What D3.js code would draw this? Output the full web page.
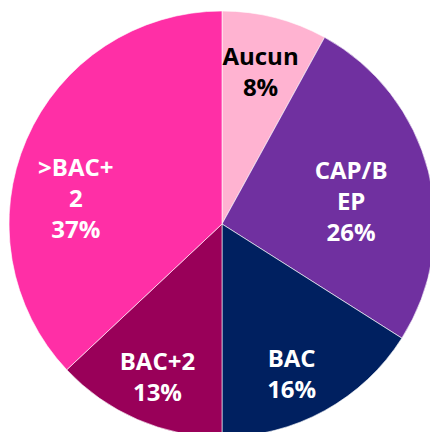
<!DOCTYPE html>
<html>
<head>
<meta charset="utf-8">
<script src="https://cdn.jsdelivr.net/npm/d3@7"></script>
<style>
  html, body { margin: 0; padding: 0; background: #fff; }
  svg { display: block; }
</style>
</head>
<body>
<svg id="chart"></svg>
<script>
// data
const categories = ["Aucun", "CAP/BEP", "BAC", "BAC+2", ">BAC+2"];
const values = [8, 26, 16, 13, 37];
// how the labels wrap in the original
const labelLines = [["Aucun"], ["CAP/B", "EP"], ["BAC"], ["BAC+2"], [">BAC+", "2"]];
const colors = ["#ffb3d1", "#7030a0", "#002060", "#990059", "#ff2fa6"];
const textColors = ["#000", "#fff", "#fff", "#fff", "#fff"];

// layout
const width = 430, height = 432;
const cx = 222, cy = 224, radius = 213;
const labelRadius = 155;
const lineHeight = 31;
// hand nudges so labels sit like the original text boxes
const nudge = [[0, -2], [-21, 16], [-5, 14], [-3, 11], [-4, 36]];

const svg = d3.select("#chart")
    .attr("width", width)
    .attr("height", height);

const g = svg.append("g")
    .attr("transform", `translate(${cx},${cy})`);

const pie = d3.pie().sort(null).value(d => d.value);
const arcs = pie(categories.map((c, i) => ({name: c, value: values[i], i})));

const arc = d3.arc().innerRadius(0).outerRadius(radius);
const labelArc = d3.arc().innerRadius(labelRadius).outerRadius(labelRadius);

g.selectAll("path")
    .data(arcs)
    .join("path")
    .attr("d", arc)
    .attr("fill", d => colors[d.data.i])
    .attr("stroke", "#fff")
    .attr("stroke-width", 0.6);

const labels = g.selectAll("text")
    .data(arcs)
    .join("text")
    .attr("text-anchor", "middle")
    .attr("font-family", "'Open Sans', Lato, sans-serif")
    .attr("font-weight", "bold")
    .attr("font-size", "24px")
    .attr("fill", d => textColors[d.data.i])
    .attr("transform", d => {
        const [x, y] = labelArc.centroid(d);
        const n = nudge[d.data.i];
        return `translate(${x + n[0]},${y + n[1]})`;
    });

labels.each(function(d) {
    const lines = labelLines[d.data.i].concat([d.data.value + "%"]);
    const first = -(lines.length - 1) * lineHeight / 2 + 8.5;
    d3.select(this).selectAll("tspan")
        .data(lines)
        .join("tspan")
        .attr("x", 0)
        .attr("y", (t, k) => first + k * lineHeight)
        .text(t => t);
});
</script>
</body>
</html>
